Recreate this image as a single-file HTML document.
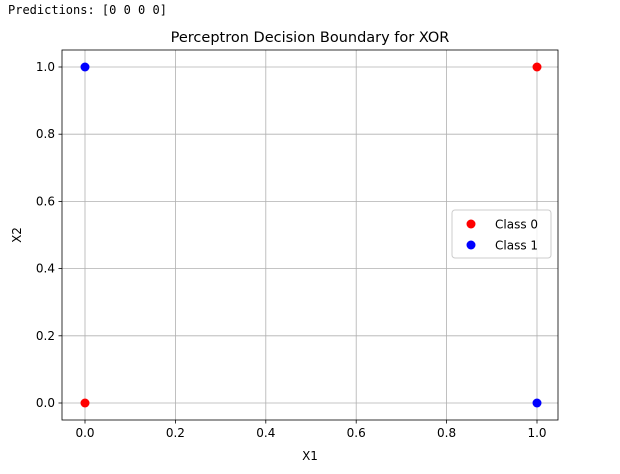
<!DOCTYPE html>
<html><head><meta charset="utf-8"><style>
body{margin:0;background:#fff;width:620px;height:474px;overflow:hidden;font-family:"DejaVu Sans","Liberation Sans",sans-serif}
#pred{position:absolute;left:8px;top:3px;font-family:"DejaVu Sans Mono","Liberation Mono",monospace;font-size:12px;color:#000}
</style></head><body>
<div id="pred">Predictions: [0 0 0 0]</div>
<svg id="chart" width="620" height="474" style="position:absolute;left:0;top:0"></svg>
<script>
const xTicks=[0,0.2,0.4,0.6,0.8,1.0];
const yTicks=[0,0.2,0.4,0.6,0.8,1.0];
const class0X=[0,1];
const class0Y=[0,1];
const class1X=[0,1];
const class1Y=[1,0];
const NS='http://www.w3.org/2000/svg';
const svg=document.getElementById('chart');
const L=62,R=558,T=50,B=420;
const sx=v=>85+v*(537-85);
const sy=v=>403-v*(403-67);
function mk(tag,attrs,parent){const e=document.createElementNS(NS,tag);for(const k in attrs)e.setAttribute(k,attrs[k]);(parent||svg).appendChild(e);return e;}
const g=mk('g',{});


xTicks.forEach(t=>{
 const l=mk('line',{x1:sx(t),x2:sx(t),y1:T,y2:B,stroke:'#b0b0b0','stroke-width':0.8},g);
 
 
 mk('line',{x1:sx(t),x2:sx(t),y1:B,y2:B+3.5,stroke:'#000','stroke-width':0.8});
 const tx=mk('text',{x:sx(t),y:B+17,'text-anchor':'middle','font-size':12,fill:'#000'});
 tx.textContent=t.toFixed(1);
 
 
});
yTicks.forEach(t=>{
 const l=mk('line',{x1:L,x2:R,y1:sy(t),y2:sy(t),stroke:'#b0b0b0','stroke-width':0.8},g);
 
 
 mk('line',{x1:L-3.5,x2:L,y1:sy(t),y2:sy(t),stroke:'#000','stroke-width':0.8});
 const tx=mk('text',{x:L-7,y:sy(t)+4,'text-anchor':'end','font-size':12,fill:'#000'});
 tx.textContent=t.toFixed(1);
 
 
});
const fr=mk('rect',{x:L,y:T,width:R-L,height:B-T,fill:'none',stroke:'#000','stroke-width':0.8});


class0X.forEach((x,i)=>{
 const c=mk('circle',{cx:sx(x),cy:sy(class0Y[i]),r:4.5,fill:'#ff0000'});
 
 
});
class1X.forEach((x,i)=>{
 const c=mk('circle',{cx:sx(x),cy:sy(class1Y[i]),r:4.5,fill:'#0000ff'});
 
 
});
const title=mk('text',{x:310,y:42,'text-anchor':'middle','font-size':14.5,fill:'#000'});
title.textContent='Perceptron Decision Boundary for XOR';


const xl=mk('text',{x:310,y:460,'text-anchor':'middle','font-size':12,fill:'#000'});
xl.textContent='X1';


const yl=mk('text',{x:0,y:0,'text-anchor':'middle','font-size':12,fill:'#000',transform:'translate(21,235) rotate(-90)'});
yl.textContent='X2';


const lg=mk('g',{});


mk('rect',{x:452,y:210,width:99,height:48,rx:3,fill:'#fff','fill-opacity':0.8,stroke:'#ccc','stroke-width':1},lg);
[['Class 0','#ff0000',224],['Class 1','#0000ff',245]].forEach(([t,c,y])=>{
 const e=mk('g',{},lg);
 
 
 mk('circle',{cx:471,cy:y,r:4.5,fill:c},e);
 const tx=mk('text',{x:495,y:y+4.5,'font-size':12,fill:'#000'},e);
 tx.textContent=t;
});
</script>
</body></html>
